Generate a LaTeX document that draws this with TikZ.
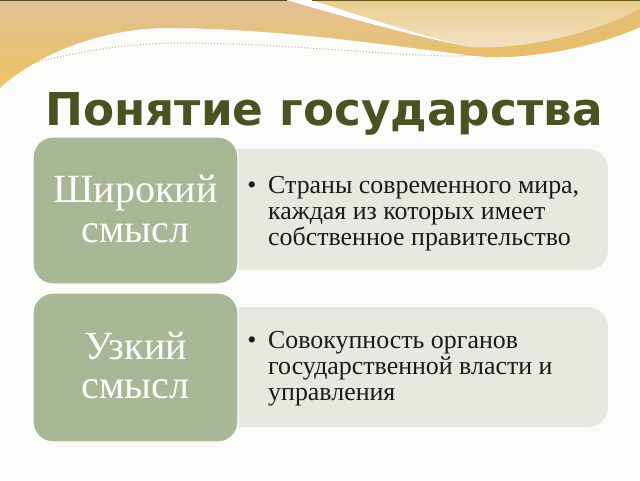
\documentclass[tikz,border=0pt]{standalone}
\usepackage{fontspec}
\setmainfont{Liberation Serif}
\newfontfamily\titlefont{DejaVu Sans}
\definecolor{bgc}{HTML}{FBFBF9}
\definecolor{sage}{HTML}{A8B796}
\definecolor{pale}{HTML}{E6E9DF}
\definecolor{titlec}{HTML}{4A5222}
\definecolor{bodyc}{HTML}{1A1A1A}
\definecolor{tanT}{HTML}{E0C096}
\definecolor{tanB}{HTML}{EEC35E}
\definecolor{creamT}{HTML}{E8CF90}
\definecolor{creamB}{HTML}{F5E2C6}
\definecolor{goldc}{HTML}{E7BE6C}
\definecolor{dotc}{HTML}{CBBBA0}
\definecolor{topbrown}{HTML}{5C421E}
\definecolor{topolive}{HTML}{6E5A1E}
\tikzset{
  sagebox/.style={fill=sage, draw=white, line width=1.2pt, rounded corners=20pt},
  palebox/.style={fill=pale, draw=none, rounded corners=20pt},
  labeltext/.style={text=white, font=\fontsize{40}{40}\selectfont, inner sep=0pt},
  bodytext/.style={text=bodyc, font=\fontsize{25.9}{26}\selectfont, inner sep=0pt, anchor=base west},
  bullettext/.style={text=bodyc, font=\fontsize{25.9}{26}\selectfont, inner sep=0pt, anchor=base},
}
\begin{document}
\begin{tikzpicture}[x=1pt,y=-1pt]
\useasboundingbox (0,0) rectangle (640,480);
\fill[bgc] (0,0) rectangle (640,480);
% top decoration
\shade[top color=tanT, bottom color=tanB]
  (0,0) -- (640,0) -- (640,27)
  .. controls (600,45) and (540,58) .. (490,57)
  .. controls (440,54) and (300,28) .. (163,28)
  .. controls (90,30) and (30,60) .. (0,88) -- cycle;
\fill[goldc] (430,44) .. controls (470,50) and (520,48) .. (560,38)
  .. controls (600,28) and (625,18) .. (640,10) -- (640,27)
  .. controls (600,45) and (540,58) .. (490,57)
  .. controls (470,56) and (450,52) .. (430,48) -- cycle;
\fill[white] (287,0) -- (312,0) .. controls (380,22) and (430,38) .. (472,47)
  .. controls (440,42) and (360,22) .. (287,0) -- cycle;
\shade[top color=creamT, bottom color=creamB]
  (312,0) -- (640,0) -- (640,9)
  .. controls (600,30) and (530,50) .. (472,47)
  .. controls (430,38) and (380,22) .. (312,0) -- cycle;
\draw[topbrown, line width=1.5pt] (0,0.5) -- (287,0.5);
\draw[topolive, line width=1.5pt] (312,0.5) -- (640,0.5);
\draw[dotc, dotted, line width=1.1pt] (0,72) .. controls (60,55) and (110,44) .. (180,43)
  .. controls (280,43) and (380,55) .. (450,56)
  .. controls (530,55) and (600,35) .. (640,17);
% title
\node[text=titlec, font=\titlefont\bfseries\fontsize{45.3}{45.3}\selectfont, inner sep=0pt, anchor=base] (title) at (324,125) {Понятие государства};
% boxes
\path[palebox] (200,149) rectangle (608,270);
\path[palebox] (200,307) rectangle (608,427);
\path[sagebox] (33,137) rectangle (238,284);
\path[sagebox] (33,293) rectangle (238,442);
% labels
\node[labeltext, anchor=base] (w1) at (135.5,202) {Широкий};
\node[labeltext, anchor=base] (w2) at (135.5,242) {смысл};
\node[labeltext, anchor=base] (u1) at (135.5,359) {Узкий};
\node[labeltext, anchor=base] (u2) at (135.5,398) {смысл};
% bullets
\node[bullettext] (bA) at (252,193) {•};
\node[bodytext] (a1) at (268,193) {Страны современного мира,};
\node[bodytext] (a2) at (268,219) {каждая из которых имеет};
\node[bodytext] (a3) at (268,245) {собственное правительство};
\node[bullettext] (bB) at (252,348) {•};
\node[bodytext] (b1) at (268,348) {Совокупность органов};
\node[bodytext] (b2) at (268,374) {государственной власти и};
\node[bodytext] (b3) at (268,400) {управления};
\end{tikzpicture}
\end{document}
